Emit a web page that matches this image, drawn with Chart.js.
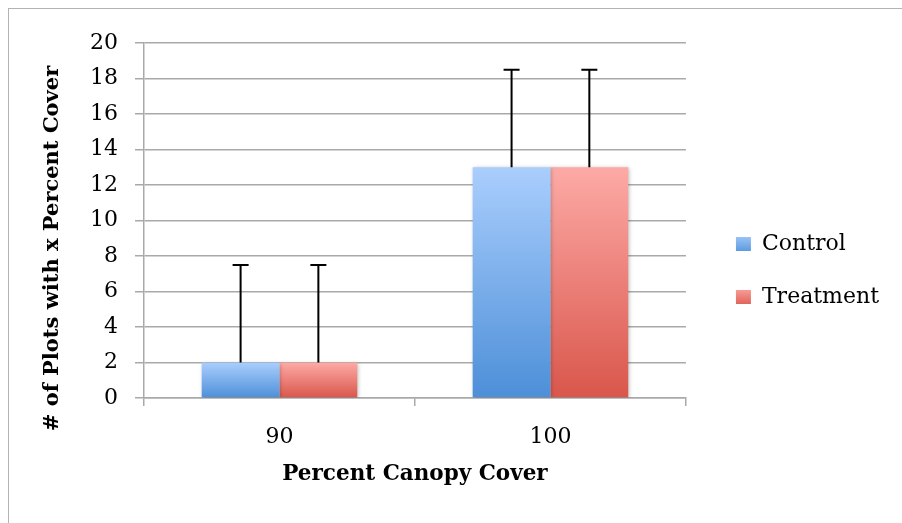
<!DOCTYPE html>
<html><head><meta charset="utf-8">
<script src="https://cdn.jsdelivr.net/npm/chart.js@4"></script>
<style>
html,body{margin:0;padding:0;background:#fff;width:902px;height:523px;overflow:hidden}
#wrap{position:absolute;left:0;top:0;width:902px;height:523px}
#frame{position:absolute;left:8px;top:8px;width:940px;height:560px;border:1.5px solid #b3b3b3;box-sizing:border-box;pointer-events:none}
</style></head><body>
<div id="wrap"><canvas id="c" width="902" height="523"></canvas></div>
<div id="frame"></div>
<script>
const categories = ['90', '100'];
const seriesNames = ['Control', 'Treatment'];
const controlValues = [2, 13];
const treatmentValues = [2, 13];
const controlErrors = [5.5, 5.5];
const treatmentErrors = [5.5, 5.5];
const yTickValues = [0, 2, 4, 6, 8, 10, 12, 14, 16, 18, 20];
const xTitle = 'Percent Canopy Cover';
const yTitle = '# of Plots with x Percent Cover';

const FONT = "'DejaVu Serif', serif";
const gradColors = [['#aacefd', '#4d8fd8'], ['#fdaaa6', '#d9564b']];
const gridCol = '#a9a9a9';

function barGradient(c, idx) {
  const chart = c.chart;
  const ys = chart.scales && chart.scales.y;
  if (!chart.chartArea || !ys || c.raw === undefined) return gradColors[idx][0];
  const top = ys.getPixelForValue(c.raw);
  const bot = ys.getPixelForValue(0);
  const g = chart.ctx.createLinearGradient(0, top, 0, bot);
  g.addColorStop(0, gradColors[idx][0]);
  g.addColorStop(1, gradColors[idx][1]);
  return g;
}

const errorBars = {
  id: 'errorBars',
  afterDatasetsDraw(chart) {
    const ctx = chart.ctx, ys = chart.scales.y;
    chart.data.datasets.forEach((ds, i) => {
      const meta = chart.getDatasetMeta(i);
      meta.data.forEach((el, j) => {
        const yTop = ys.getPixelForValue(ds.data[j] + ds.errors[j]);
        ctx.save();
        ctx.strokeStyle = '#000';
        ctx.lineWidth = 2;
        ctx.beginPath();
        ctx.moveTo(el.x, el.y);
        ctx.lineTo(el.x, yTop);
        ctx.moveTo(el.x - 8, yTop);
        ctx.lineTo(el.x + 8, yTop);
        ctx.stroke();
        ctx.restore();
      });
    });
  }
};

const barShadow = {
  id: 'barShadow',
  beforeDatasetDraw(chart) {
    const ctx = chart.ctx;
    ctx.save();
    ctx.shadowColor = 'rgba(0,0,0,0.28)';
    ctx.shadowBlur = 4;
    ctx.shadowOffsetX = 1;
    ctx.shadowOffsetY = 1;
  },
  afterDatasetDraw(chart) { chart.ctx.restore(); }
};

const legendGradient = {
  id: 'legendGradient',
  beforeDraw(chart) {
    const lg = chart.legend;
    if (!lg || !lg.legendItems || !lg.legendHitBoxes) return;
    lg.legendItems.forEach((it, i) => {
      const hb = lg.legendHitBoxes[i];
      if (!hb) return;
      const g = chart.ctx.createLinearGradient(0, hb.top, 0, hb.top + hb.height);
      g.addColorStop(0, gradColors[i][0]);
      g.addColorStop(1, gradColors[i][1]);
      it.fillStyle = g;
    });
  }
};

const yTitlePlugin = {
  id: 'yTitle',
  afterDraw(chart) {
    const ctx = chart.ctx;
    ctx.save();
    ctx.translate(53, 248.5);
    ctx.rotate(-Math.PI / 2);
    ctx.font = "bold 21px " + FONT;
    ctx.fillStyle = '#000';
    ctx.textAlign = 'center';
    ctx.textBaseline = 'middle';
    ctx.fillText(yTitle, 0, 0);
    ctx.restore();
  }
};

new Chart(document.getElementById('c'), {
  type: 'bar',
  data: {
    labels: categories,
    datasets: [
      { label: seriesNames[0], data: controlValues, errors: controlErrors,
        backgroundColor: c => barGradient(c, 0), borderWidth: 0,
        categoryPercentage: 0.574, barPercentage: 1.0 },
      { label: seriesNames[1], data: treatmentValues, errors: treatmentErrors,
        backgroundColor: c => barGradient(c, 1), borderWidth: 0,
        categoryPercentage: 0.574, barPercentage: 1.0 }
    ]
  },
  options: {
    responsive: false,
    devicePixelRatio: 1,
    animation: false,
    layout: { padding: { left: 80, top: 43, right: 13, bottom: 25 } },
    plugins: {
      tooltip: { enabled: false },
      legend: {
        position: 'right',
        labels: {
          boxWidth: 15, boxHeight: 14, padding: 31,
          color: '#000',
          font: { family: FONT, size: 22 }
        }
      }
    },
    scales: {
      x: {
        offset: true,
        grid: { drawOnChartArea: false, drawTicks: true, tickLength: 8, color: gridCol, lineWidth: 1.5, offset: true },
        border: { display: true, color: gridCol, width: 1.5 },
        ticks: { color: '#000', font: { family: FONT, size: 22 }, padding: 18 },
        title: { display: true, text: xTitle, color: '#000', font: { family: FONT, size: 21.5, weight: 'bold' }, padding: { top: 0, bottom: 11 } },
        afterFit: s => { s.height = 100; }
      },
      y: {
        min: 0, max: 20,
        afterBuildTicks: s => { s.ticks = yTickValues.map(v => ({ value: v })); },
        grid: { color: gridCol, lineWidth: 1.5, tickLength: 9, drawTicks: true },
        border: { display: true, color: gridCol, width: 1.5 },
        ticks: { color: '#000', font: { family: FONT, size: 22 }, padding: 17 },
        afterFit: s => { s.width = 64; }
      },
      gap: {
        position: 'right',
        display: false,
        afterFit: s => { s.width = 19; }
      }
    }
  },
  plugins: [barShadow, errorBars, legendGradient, yTitlePlugin]
});
</script>
</body></html>
